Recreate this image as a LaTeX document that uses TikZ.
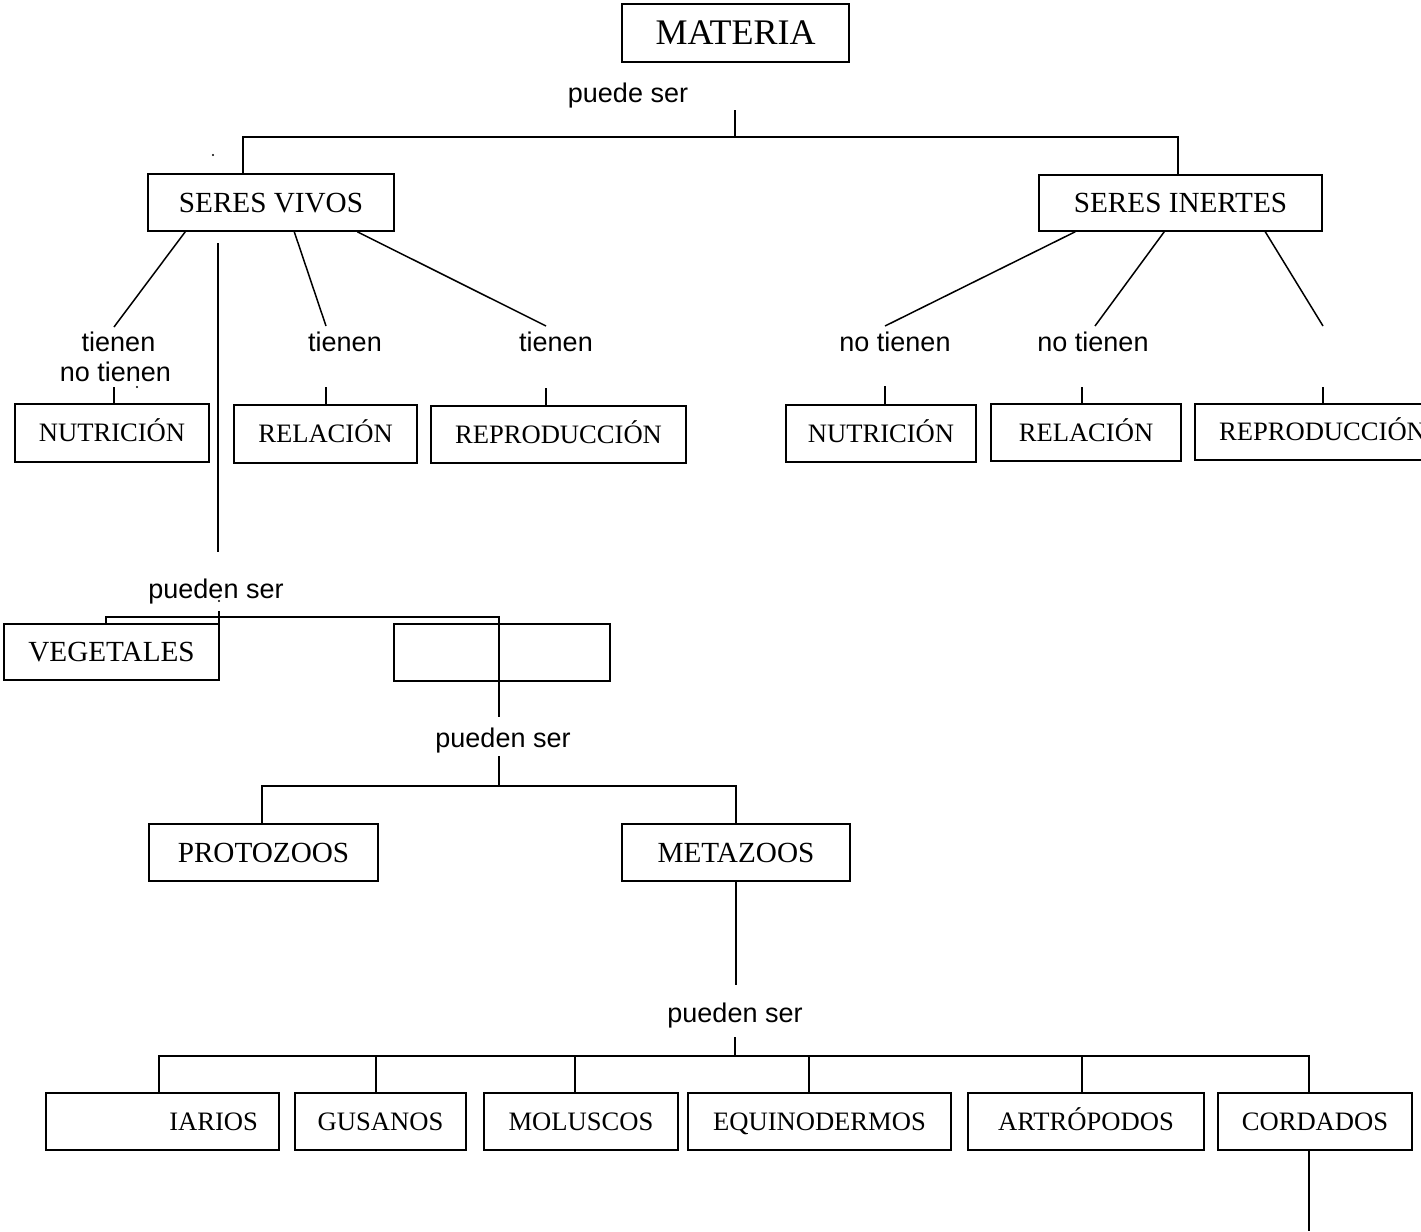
\documentclass[tikz,border=0pt]{standalone}
\usepackage{fontspec}
\setmainfont{Liberation Serif}
\newfontfamily\arialf{Liberation Sans}
\begin{document}
\begin{tikzpicture}[x=1pt,y=-1pt,
  conn/.style={line width=1.5pt},
  box/.style={draw,line width=1.5pt,inner sep=0pt,anchor=center,text depth=0pt},
  bigbox/.style={box,font=\fontsize{29.2}{34}\selectfont,text height=19pt},
  smallbox/.style={box,font=\fontsize{26.6}{31}\selectfont,text height=17.5pt},
  lbl/.style={font=\arialf\fontsize{27}{32}\selectfont,inner sep=0pt,anchor=base}]
\clip (0,0) rectangle (1421,1231);
\fill[white] (0,0) rectangle (1421,1231);

% boxes
\node[box,font=\fontsize{36}{42}\selectfont,text height=24pt,minimum width=227pt,minimum height=58pt] (mat) at (735.5,33) {MATERIA};
\node[bigbox,minimum width=246pt,minimum height=57pt] (sv) at (271,202.5) {SERES VIVOS};
\node[bigbox,minimum width=283pt,minimum height=56pt] (si) at (1180.5,203) {SERES INERTES};
\node[smallbox,minimum width=194pt,minimum height=58pt] (n1) at (112,433) {NUTRICIÓN};
\node[smallbox,minimum width=183pt,minimum height=58pt] (r1) at (325.5,434) {RELACIÓN};
\node[smallbox,minimum width=255pt,minimum height=57pt] (p1) at (558.5,434.5) {REPRODUCCIÓN};
\node[smallbox,minimum width=190pt,minimum height=57pt] (n2) at (881,433.5) {NUTRICIÓN};
\node[smallbox,minimum width=190pt,minimum height=57pt] (r2) at (1086,432.5) {RELACIÓN};
\node[smallbox,minimum width=255pt,minimum height=56pt] (p2) at (1322.5,432) {REPRODUCCIÓN};
\node[bigbox,minimum width=215pt,minimum height=56pt] (veg) at (111.5,652) {VEGETALES};
\node[bigbox,minimum width=216pt,minimum height=57pt] (emp) at (502,652.5) {};
\node[bigbox,minimum width=229pt,minimum height=57pt] (pro) at (263.5,852.5) {PROTOZOOS};
\node[bigbox,minimum width=228pt,minimum height=57pt] (met) at (736,852.5) {METAZOOS};
\node[smallbox,minimum width=233pt,minimum height=57pt,text width=191pt,align=right] (iar) at (162.5,1121.5) {IARIOS};
\node[smallbox,minimum width=171pt,minimum height=57pt] (gus) at (380.5,1121.5) {GUSANOS};
\node[smallbox,minimum width=194pt,minimum height=57pt] (mol) at (581,1121.5) {MOLUSCOS};
\node[smallbox,minimum width=263pt,minimum height=57pt] (equ) at (819.5,1121.5) {EQUINODERMOS};
\node[smallbox,minimum width=236pt,minimum height=57pt] (art) at (1086,1121.5) {ARTRÓPODOS};
\node[smallbox,minimum width=194pt,minimum height=57pt] (cor) at (1315,1121.5) {CORDADOS};

% labels
\node[lbl] (l0) at (628,102) {puede ser};
\node[lbl] (l1) at (118.5,351) {tienen};
\node[lbl] (l1b) at (115.5,381) {no tienen};
\node[lbl] (l2) at (345,351) {tienen};
\node[lbl] (l3) at (556,351) {tienen};
\node[lbl] (l4) at (895,351) {no tienen};
\node[lbl] (l5) at (1093,351) {no tienen};
\node[lbl] (l6) at (216,598) {pueden ser};
\node[lbl] (l7) at (503,747) {pueden ser};
\node[lbl] (l8) at (735,1022) {pueden ser};

% junction coordinates
\coordinate (t0) at (735,110);
\coordinate (hL) at (243,137);
\coordinate (hM) at (735,137);
\coordinate (hR) at (1178,137);
\coordinate (c1) at (114,327);
\coordinate (c2) at (326,326);
\coordinate (c3) at (546,326);
\coordinate (c4) at (885,326);
\coordinate (c5) at (1095,326);
\coordinate (c6) at (1323,326);
\coordinate (k1) at (114,387);
\coordinate (k2) at (326,387);
\coordinate (k3) at (546,388);
\coordinate (k4) at (885,386);
\coordinate (k5) at (1082,387);
\coordinate (k6) at (1323,387);
\coordinate (v1a) at (218,243);
\coordinate (v1b) at (218,552);
\coordinate (g1) at (106,617);
\coordinate (g2) at (499,617);
\coordinate (g3) at (499,717);
\coordinate (s1) at (219,611);
\coordinate (s2) at (219,647);
\coordinate (m1) at (499,756);
\coordinate (m2) at (499,786);
\coordinate (m3) at (262,786);
\coordinate (m4) at (736,786);
\coordinate (e1) at (736,985);
\coordinate (e2) at (735,1037);
\coordinate (e3) at (735,1056);
\coordinate (b1) at (159,1056);
\coordinate (b2) at (376,1056);
\coordinate (b3) at (575,1056);
\coordinate (b4) at (809,1056);
\coordinate (b5) at (1082,1056);
\coordinate (b6) at (1309,1056);
\coordinate (bend) at (1309,1231);

% connectors
\draw[conn] (t0) -- (hM);
\draw[conn] (sv.north -| hL) -- (hL) -- (hR) -- (si.north -| hR);

\draw[conn] ([xshift=38]sv.south west) -- (c1);
\draw[conn] ([xshift=147]sv.south west) -- (c2);
\draw[conn] ([xshift=210]sv.south west) -- (c3);
\draw[conn] (v1a) -- (v1b);
\draw[conn] (k1) -- (n1.north -| k1);
\draw[conn] (k2) -- (r1.north -| k2);
\draw[conn] (k3) -- (p1.north -| k3);

\draw[conn] ([xshift=37]si.south west) -- (c4);
\draw[conn] ([xshift=126]si.south west) -- (c5);
\draw[conn] ([xshift=227]si.south west) -- (c6);
\draw[conn] (k4) -- (n2.north -| k4);
\draw[conn] (k5) -- (r2.north -| k5);
\draw[conn] (k6) -- (p2.north -| k6);

\draw[conn] (veg.north -| g1) -- (g1) -- (g2) -- (g3);
\draw[conn] (s1) -- (s2);
\draw[conn] (m1) -- (m2);
\draw[conn] (pro.north -| m3) -- (m3) -- (m4) -- (met.north -| m4);
\draw[conn] (met.south) -- (e1);
\draw[conn] (e2) -- (e3);
\draw[conn] (iar.north -| b1) -- (b1) -- (b6) -- (cor.north -| b6);
\draw[conn] (b2) -- (gus.north -| b2);
\draw[conn] (b3) -- (mol.north -| b3);
\draw[conn] (b4) -- (equ.north -| b4);
\draw[conn] (b5) -- (art.north -| b5);
\draw[conn] (cor.south -| bend) -- (bend);

% stray dots
\fill (213,155) circle[radius=1.2pt];
\fill (137,387) circle[radius=1.2pt];
\fill (219,601) circle[radius=1.2pt];
\end{tikzpicture}
\end{document}
